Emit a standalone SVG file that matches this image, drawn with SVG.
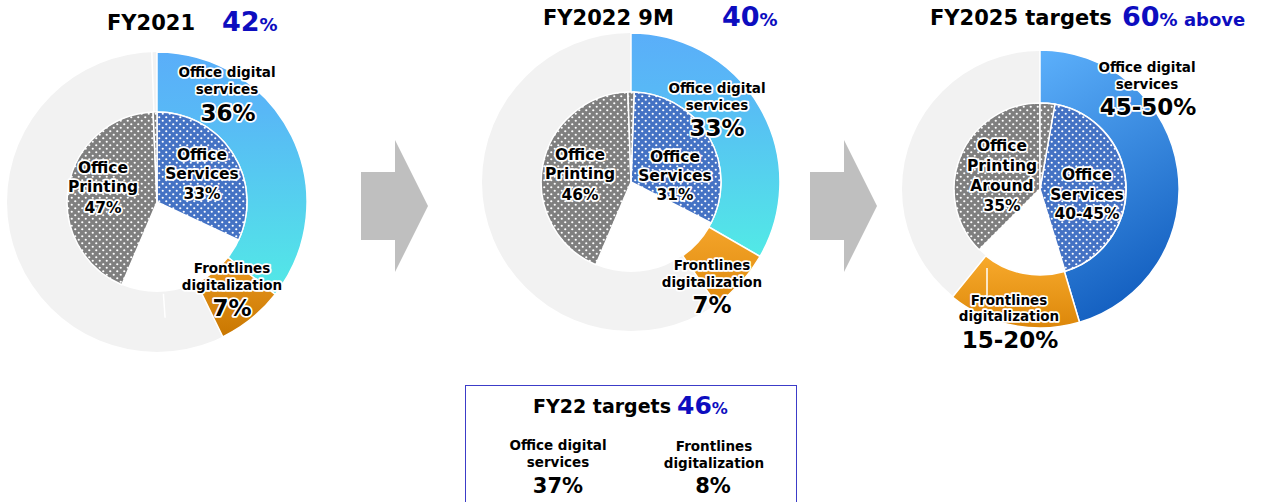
<svg xmlns="http://www.w3.org/2000/svg" width="1262" height="502" viewBox="0 0 1262 502">
<style>
text{font-family:"DejaVu Sans",Verdana,sans-serif;font-weight:bold;fill:#000;text-anchor:middle}
.t{font-size:21px;text-anchor:start}
.bn{fill:#0d0dbf;font-size:27px;text-anchor:start}
.bp{fill:#0d0dbf;font-size:18px}
.h{stroke:#fff;stroke-width:3.5px;stroke-linejoin:round;paint-order:stroke}
.s{font-size:13.5px}
.m{font-size:15.5px}
.L{font-size:23px}
.seg{stroke:#fff;stroke-width:1.5}
.ring{fill:#f2f2f2}
.wl{stroke:#fff;stroke-width:1.5}
</style>
<defs>
<pattern id="dg" patternUnits="userSpaceOnUse" width="7" height="7"><rect width="7" height="7" fill="#7f7f7f"/><circle cx="1.75" cy="1.75" r="1.1" fill="#fff"/><circle cx="5.25" cy="5.25" r="1.1" fill="#fff"/></pattern>
<pattern id="db" patternUnits="userSpaceOnUse" width="7" height="7"><rect width="7" height="7" fill="#4472c4"/><circle cx="1.75" cy="1.75" r="1.1" fill="#fff"/><circle cx="5.25" cy="5.25" r="1.1" fill="#fff"/></pattern>
<linearGradient id="gc" x1="0" y1="0" x2="0" y2="1"><stop offset="0" stop-color="#5aaef9"/><stop offset="0.25" stop-color="#58b8f6"/><stop offset="1" stop-color="#52eae6"/></linearGradient>
<linearGradient id="gd" x1="0" y1="0" x2="0.3" y2="1"><stop offset="0" stop-color="#5cb0fb"/><stop offset="1" stop-color="#1662c2"/></linearGradient>
<linearGradient id="go1" x1="0" y1="0" x2="0" y2="1"><stop offset="0" stop-color="#eb9a22"/><stop offset="1" stop-color="#c97700"/></linearGradient>
<linearGradient id="go2" x1="0" y1="0" x2="0" y2="1"><stop offset="0" stop-color="#f4a42a"/><stop offset="1" stop-color="#de8a0e"/></linearGradient>
<linearGradient id="go3" x1="0" y1="0" x2="0" y2="1"><stop offset="0" stop-color="#f8aa2c"/><stop offset="1" stop-color="#dc870a"/></linearGradient>
</defs>

<!-- connectors -->
<g id="connectors" fill="#bfbfbf">
<polygon points="361,172 395,172 395,140 428,206 395,272 395,240 361,240"/>
<polygon points="810,172 844,172 844,140 877,206 844,272 844,240 810,240"/>
</g>

<!-- FY2021 -->
<g id="chart-fy2021">
<text class="t" x="107" y="30">FY2021</text>
<text class="bn" x="222" y="31">42<tspan class="bp" font-size="18">%</tspan></text>
<path class="ring" fill-rule="evenodd" d="M7,202a150,150 0 1 0 300,0a150,150 0 1 0 -300,0ZM67,202a90,90 0 1 0 180,0a90,90 0 1 0 -180,0Z"/>
<line class="wl" x1="153.9" y1="112" x2="151.8" y2="52"/>
<line class="wl" x1="163.4" y1="293.8" x2="165.1" y2="317.7"/>
<g id="fy2021-digital"><path class="seg" fill="url(#gc)" d="M157,52A150,150 0 0 1 275.2,294.4L227.9,257.4A90,90 0 0 0 157,112Z"/></g>
<g id="fy2021-frontlines"><path class="seg" fill="url(#go1)" d="M275.2,294.4A150,150 0 0 1 222.8,336.8L196.5,282.9A90,90 0 0 0 227.9,257.4Z"/></g>
<g id="fy2021-services"><path class="seg" fill="url(#db)" d="M157,202L157,112A90,90 0 0 1 238.6,240Z"/></g>
<g id="fy2021-printing"><path class="seg" fill="url(#dg)" d="M157,202L121.8,284.8A90,90 0 0 1 153.1,112.1Z"/><path class="seg" fill="url(#dg)" d="M157,202L153.1,112.1A90,90 0 0 1 157,112Z"/></g>
<g class="h">
<text class="s" x="227" y="77">Office digital</text>
<text class="s" x="227" y="94">services</text>
<text class="L" x="228" y="121">36%</text>
<text class="m" x="202" y="160">Office</text>
<text class="m" x="202" y="179">Services</text>
<text class="m" x="202" y="199">33%</text>
<text class="m" x="103" y="173">Office</text>
<text class="m" x="103" y="192">Printing</text>
<text class="m" x="103" y="213">47%</text>
<text class="s" x="232" y="273">Frontlines</text>
<text class="s" x="232" y="290">digitalization</text>
<text class="L" x="232" y="316">7%</text>
</g>
</g>

<!-- FY2022 9M -->
<g id="chart-fy2022">
<text class="t" x="543" y="25">FY2022 9M</text>
<text class="bn" x="722" y="26">40<tspan class="bp" font-size="18">%</tspan></text>
<path class="ring" fill-rule="evenodd" d="M482,182a149,149 0 1 0 298,0a149,149 0 1 0 -298,0ZM541,182a90,90 0 1 0 180,0a90,90 0 1 0 -180,0Z"/>
<g id="fy2022-digital"><path class="seg" fill="url(#gc)" d="M631,33A149,149 0 0 1 760,256.5L708.9,227A90,90 0 0 0 631,92Z"/></g>
<g id="fy2022-frontlines"><path class="seg" fill="url(#go2)" d="M760,256.5A149,149 0 0 1 716.5,304.1L682.6,255.7A90,90 0 0 0 708.9,227Z"/></g>
<g id="fy2022-services"><path class="seg" fill="url(#db)" d="M631,182L634.1,92.1A90,90 0 0 1 711.2,222.9Z"/></g>
<g id="fy2022-printing"><path class="seg" fill="url(#dg)" d="M631,182L595.8,264.8A90,90 0 0 1 627.9,92.1Z"/><path class="seg" fill="url(#dg)" d="M631,182L627.9,92.1A90,90 0 0 1 634.1,92.1Z"/></g>
<g class="h">
<text class="s" x="717" y="93">Office digital</text>
<text class="s" x="717" y="110">services</text>
<text class="L" x="717" y="136">33%</text>
<text class="m" x="675" y="162">Office</text>
<text class="m" x="675" y="181">Services</text>
<text class="m" x="675" y="200">31%</text>
<text class="m" x="580" y="160">Office</text>
<text class="m" x="580" y="179">Printing</text>
<text class="m" x="580" y="200">46%</text>
<text class="s" x="712" y="270">Frontlines</text>
<text class="s" x="712" y="287">digitalization</text>
<text class="L" x="712" y="313">7%</text>
</g>
</g>

<!-- FY2025 targets -->
<g id="chart-fy2025">
<text class="t" x="930" y="25">FY2025 targets</text>
<text class="bn" x="1122" y="26">60<tspan class="bp" font-size="18">% above</tspan></text>
<path class="ring" fill-rule="evenodd" d="M902,189a138,138 0 1 0 276,0a138,138 0 1 0 -276,0ZM954,189a86,86 0 1 0 172,0a86,86 0 1 0 -172,0Z"/>
<g id="fy2025-digital"><path class="seg" fill="url(#gd)" d="M1040,50A139,139 0 0 1 1079.5,322.3L1064.4,271.5A86,86 0 0 0 1040,103Z"/></g>
<g id="fy2025-frontlines"><path class="seg" fill="url(#go3)" d="M1079.5,322.3A139,139 0 0 1 952.5,297L985.9,255.8A86,86 0 0 0 1064.4,271.5Z"/><line class="wl" x1="987" y1="268" x2="987" y2="300"/></g>
<g id="fy2025-services"><path class="seg" fill="url(#db)" d="M1040,189L1054.9,104.3A86,86 0 0 1 1065.1,271.2Z"/></g>
<g id="fy2025-printing"><path class="seg" fill="url(#dg)" d="M1040,189L979.2,249.8A86,86 0 0 1 1040,103Z"/><path class="seg" fill="url(#dg)" d="M1040,189L1040,103A86,86 0 0 1 1054.9,104.3Z"/></g>
<g class="h">
<text class="s" x="1147" y="72">Office digital</text>
<text class="s" x="1147" y="89">services</text>
<text class="L" x="1148" y="115" font-size="22">45-50%</text>
<text class="m" x="1002" y="151">Office</text>
<text class="m" x="1002" y="171">Printing</text>
<text class="m" x="1002" y="191">Around</text>
<text class="m" x="1002" y="211">35%</text>
<text class="m" x="1087" y="180">Office</text>
<text class="m" x="1087" y="200">Services</text>
<text class="m" x="1087" y="219">40-45%</text>
<text class="s" x="1009" y="305">Frontlines</text>
<text class="s" x="1009" y="321">digitalization</text>
<text class="L" x="1010" y="348" font-size="22">15-20%</text>
</g>
</g>

<!-- FY22 targets box -->
<g id="fy22-targets">
<rect x="465.5" y="385.5" width="331" height="120" fill="#fff" stroke="#3c3cc8" stroke-width="1"/>
<text x="533" y="413" font-size="19" style="text-anchor:start">FY22 targets</text>
<text x="677" y="414" style="text-anchor:start;fill:#0d0dbf;font-size:25px">46<tspan style="font-size:16px">%</tspan></text>
<text class="s" x="558" y="450">Office digital</text>
<text class="s" x="558" y="467">services</text>
<text x="558" y="493" style="font-size:21px">37%</text>
<text class="s" x="714" y="451">Frontlines</text>
<text class="s" x="714" y="468">digitalization</text>
<text x="713" y="493" style="font-size:21px">8%</text>
</g>
</svg>
